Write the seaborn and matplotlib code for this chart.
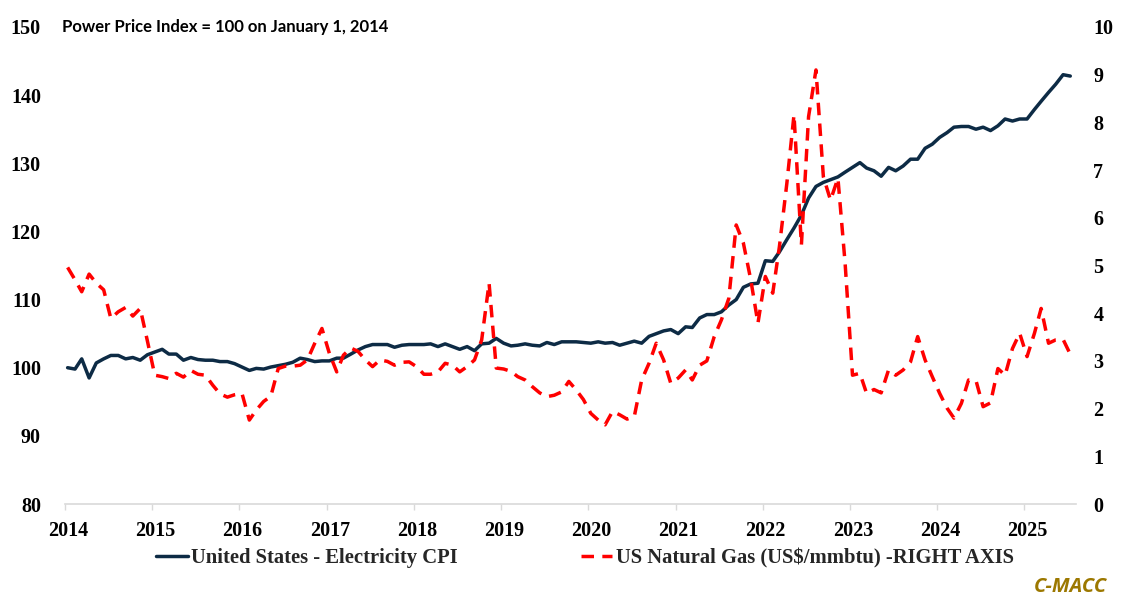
import numpy as np
import pandas as pd
import matplotlib
matplotlib.use("Agg")
import matplotlib.pyplot as plt
import matplotlib.dates as mdates
from matplotlib.transforms import ScaledTranslation
import seaborn as sns

# ---------------- data (monthly, Jan 2014 - Jul 2025) ----------------
cpi = [
    100.0, 99.8, 101.3, 98.5, 100.7, 101.3, 101.8, 101.8, 101.3, 101.5, 101.1, 101.9,   # 2014
    102.3, 102.7, 102.0, 102.0, 101.1, 101.5, 101.2, 101.1, 101.1, 100.9, 100.9, 100.6,  # 2015
    100.1, 99.6, 99.9, 99.8, 100.1, 100.3, 100.5, 100.8, 101.4, 101.2, 100.9, 101.0,     # 2016
    101.0, 101.4, 101.4, 102.0, 102.6, 103.1, 103.4, 103.4, 103.4, 103.0, 103.3, 103.4,  # 2017
    103.4, 103.4, 103.5, 103.1, 103.5, 103.1, 102.7, 103.1, 102.5, 103.5, 103.6, 104.3,  # 2018
    103.6, 103.2, 103.3, 103.5, 103.3, 103.2, 103.7, 103.4, 103.8, 103.8, 103.8, 103.7,  # 2019
    103.6, 103.8, 103.6, 103.7, 103.3, 103.6, 103.9, 103.6, 104.6, 105.0, 105.4, 105.6,  # 2020
    105.0, 106.0, 105.9, 107.3, 107.8, 107.8, 108.2, 109.2, 110.0, 111.8, 112.3, 112.4,  # 2021
    115.7, 115.6, 117.0, 118.8, 120.5, 122.4, 124.9, 126.6, 127.2, 127.6, 128.0, 128.7,  # 2022
    129.4, 130.1, 129.3, 128.9, 128.1, 129.4, 128.9, 129.6, 130.6, 130.6, 132.2, 132.8,  # 2023
    133.8, 134.5, 135.3, 135.4, 135.4, 135.0, 135.3, 134.8, 135.5, 136.5, 136.2, 136.5,  # 2024
    136.5, 137.9, 139.1, 140.4, 141.6, 143.0, 142.8,                                      # 2025
]
gas = [
    4.96, 4.70, 4.45, 4.82, 4.63, 4.49, 3.89, 4.03, 4.12, 3.94, 4.10, 3.42,   # 2014
    2.70, 2.67, 2.63, 2.74, 2.66, 2.80, 2.72, 2.70, 2.49, 2.31, 2.24, 2.29,   # 2015
    2.32, 1.76, 1.97, 2.15, 2.26, 2.84, 2.89, 2.89, 2.91, 3.02, 3.37, 3.68,   # 2016
    3.16, 2.77, 3.12, 3.27, 3.20, 3.02, 2.88, 3.02, 2.99, 2.91, 2.97, 2.98,   # 2017
    2.88, 2.72, 2.72, 2.77, 2.95, 2.91, 2.77, 2.88, 3.02, 3.44, 4.63, 2.85,   # 2018
    2.83, 2.78, 2.67, 2.60, 2.46, 2.33, 2.25, 2.28, 2.35, 2.57, 2.39, 2.19,   # 2019
    1.90, 1.76, 1.66, 1.94, 1.87, 1.78, 1.83, 2.60, 2.95, 3.37, 3.02, 2.53,   # 2020
    2.64, 2.81, 2.60, 2.91, 3.00, 3.51, 3.86, 4.31, 5.85, 5.47, 4.70, 3.79,   # 2021
    4.77, 4.42, 5.40, 6.72, 8.16, 5.43, 8.12, 9.10, 6.86, 6.37, 6.83, 5.05,   # 2022
    2.70, 2.74, 2.32, 2.40, 2.33, 2.81, 2.70, 2.81, 2.98, 3.51, 3.02, 2.67,   # 2023
    2.32, 2.01, 1.80, 2.11, 2.60, 2.59, 2.04, 2.12, 2.84, 2.70, 3.26, 3.58,   # 2024
    3.09, 3.58, 4.10, 3.37, 3.44, 3.45, 3.14,                                  # 2025
]
cpi_label = "United States - Electricity CPI"
gas_label = "US Natural Gas (US$/mmbtu) -RIGHT AXIS"
note_text = "Power Price Index = 100 on January 1, 2014"
brand_text = "C-MACC"
left_ticks = [80, 90, 100, 110, 120, 130, 140, 150]
right_ticks = list(range(0, 11))
year_ticks = list(range(2014, 2026))

dates = pd.date_range("2014-01-01", periods=len(cpi), freq="MS") + pd.Timedelta(days=11)
df = pd.DataFrame({"date": dates, "cpi": cpi, "gas": gas})

# ---------------- styling ----------------
sns.set_theme(style="white")
plt.rcParams["font.family"] = ["Liberation Serif", "DejaVu Serif"]

navy = "#0D2B45"
red = "#FF0000"
tick_size = 14.5

fig = plt.figure(figsize=(11.34, 6.08), dpi=100)
ax = fig.add_axes([65 / 1134, 1 - 504 / 608, (1076 - 65) / 1134, (504 - 27) / 608])
ax2 = ax.twinx()

sns.lineplot(data=df, x="date", y="cpi", ax=ax, color=navy, linewidth=2.5,
             label=cpi_label, legend=False)
sns.lineplot(data=df, x="date", y="gas", ax=ax2, color=red, linewidth=2.5,
             label=gas_label, legend=False)
ax2.lines[0].set_dashes((3.6, 2.4))
ax2.lines[0].set_dash_capstyle("butt")

ax.set_xlim(pd.Timestamp("2014-01-01"), pd.Timestamp("2025-08-05"))
ax.set_ylim(80, 150)
ax2.set_ylim(0, 10)
ax.set_yticks(left_ticks)
ax2.set_yticks(right_ticks)
ax.set_xticks([pd.Timestamp(f"{y}-01-01") for y in year_ticks])
ax.xaxis.set_major_formatter(mdates.DateFormatter("%Y"))

for a in (ax, ax2):
    a.set_xlabel("")
    a.set_ylabel("")
    a.grid(False)
    for s in ("left", "right", "top"):
        a.spines[s].set_visible(False)
ax2.spines["bottom"].set_visible(False)
ax.spines["bottom"].set_color("#D9D9D9")
ax.spines["bottom"].set_linewidth(1.2)

ax.tick_params(axis="x", which="major", length=4, width=1, color="#D9D9D9",
               direction="out", pad=8, bottom=True)
ax.tick_params(axis="y", length=0, pad=17.3)
ax2.tick_params(axis="y", length=0, pad=12.5)

for lab in ax.get_xticklabels() + ax.get_yticklabels() + ax2.get_yticklabels():
    lab.set_fontfamily("Liberation Serif")
    lab.set_fontweight("bold")
    lab.set_fontsize(tick_size)
    lab.set_color("black")
for lab in ax.get_xticklabels():
    lab.set_transform(lab.get_transform() + ScaledTranslation(3 / 100, 0, fig.dpi_scale_trans))

# note at top
fig.text(62 / 1134, 1 - 27 / 608, note_text, fontfamily="Lato", fontweight="bold",
         fontsize=12, color="black", ha="left", va="center")

# legend
h1 = ax.lines[0]
h2 = ax2.lines[0]
leg = fig.legend([h1, h2], [cpi_label, gas_label], loc="center",
                 bbox_to_anchor=(585 / 1134, 1 - 558 / 608), ncol=2, frameon=False,
                 handlelength=1.5, handletextpad=0.15, columnspacing=6.0,
                 prop=dict(family="Liberation Serif", weight="bold", size=14.9))

# brand
fig.text(1107 / 1134, 1 - 587 / 608, brand_text, fontfamily="Open Sans", fontweight="bold",
         fontstyle="italic", fontsize=14.5, color="#9C7800", ha="right", va="center")

fig.savefig("out.png", dpi=100, facecolor="white")
